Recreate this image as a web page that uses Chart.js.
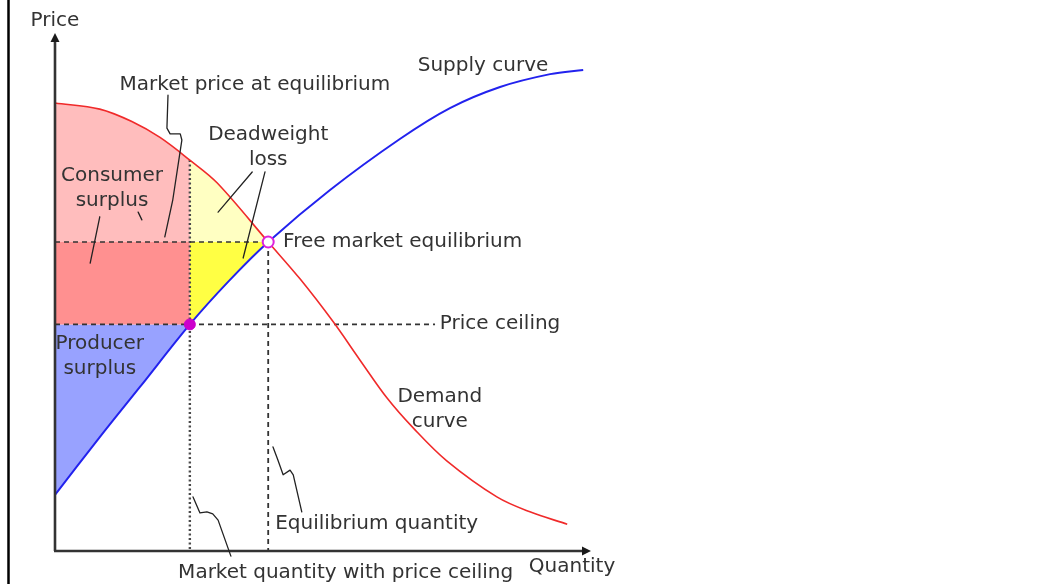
<!DOCTYPE html>
<html>
<head>
<meta charset="utf-8">
<script src="https://cdn.jsdelivr.net/npm/chart.js@4.4.1/dist/chart.umd.min.js"></script>
<style>
  html, body { margin: 0; padding: 0; background: #fff; }
  canvas { display: block; }
</style>
</head>
<body>
<canvas id="c" width="1037" height="584"></canvas>
<script>
// ---- Data (Quantity 0-100, Price 0-100) ----
const demandQ = [0, 8.4, 14.6, 19.7, 25.3, 30.4, 40, 46, 52.2, 57.2, 62.3, 67.2, 73.5, 82.9, 89.1, 96.1];
const demandP = [87, 85.8, 83.3, 80.3, 75.9, 71.5, 60, 52.8, 44.5, 37.1, 29.7, 23.9, 17.5, 10.5, 7.6, 5.2];
const supplyQ = [0, 8.4, 15.9, 25.3, 32.6, 40, 51.6, 64.7, 74.1, 83.5, 92.9, 99.1];
const supplyP = [10.9, 22.1, 31.8, 44, 52.4, 60, 70.1, 80.0, 86.0, 90.1, 92.6, 93.4];
const equilibrium = { q: 40, p: 60 };
const ceiling = { q: 25.3, p: 44 };
const ceilingLineEndQ = 71.3;

const pts = (qs, ps) => qs.map((q, i) => ({ x: q, y: ps[i] }));
const demand = pts(demandQ, demandP);
const supply = pts(supplyQ, supplyP);
const dCeil = demandQ.indexOf(ceiling.q), dEq = demandQ.indexOf(equilibrium.q);
const sCeil = supplyQ.indexOf(ceiling.q), sEq = supplyQ.indexOf(equilibrium.q);

// annotation leader lines (data units)
const leaders = [
  [[21.2,88.5],[21.0,82.1],[21.6,81.0],[23.5,81.0],[23.8,79.8],[22.1,68.2],[20.6,61.0]],
  [[8.4,64.9],[6.6,55.9]],
  [[15.6,65.8],[16.3,64.3]],
  [[37.0,73.6],[30.6,65.8]],
  [[39.4,73.6],[35.3,56.9]],
  [[40.9,20.2],[41.8,17.7],[42.8,14.8],[44.1,15.7],[44.7,14.8],[46.3,7.6]],
  [[25.9,10.5],[27.2,7.4],[28.5,7.6],[29.6,7.2],[30.6,6.0],[33.0,-1.0]]
];
// text labels: [text, q, p, align]
const labels = [
  ["Price", 0, 102.9, "center"],
  ["Market price at equilibrium", 37.5, 90.6, "center"],
  ["Supply curve", 80.3, 94.2, "center"],
  ["Deadweight", 40, 80.8, "center"],
  ["loss", 40, 76.0, "center"],
  ["Consumer", 10.7, 72.8, "center"],
  ["surplus", 10.7, 68.0, "center"],
  ["Free market equilibrium", 42.8, 60.0, "left"],
  ["Price ceiling", 72.2, 44.1, "left"],
  ["Producer", 8.4, 40.2, "center"],
  ["surplus", 8.4, 35.3, "center"],
  ["Demand", 72.2, 29.9, "center"],
  ["curve", 72.2, 25.0, "center"],
  ["Equilibrium quantity", 41.3, 5.2, "left"],
  ["Market quantity with price ceiling", 23.1, -4.3, "left"],
  ["Quantity", 88.9, -3.1, "left"]
];

const RED = '#f02a2a', BLUE = '#2222ee', DASH = '#333333';

const annot = {
  id: 'annot',
  afterDraw(chart) {
    const ctx = chart.ctx, xs = chart.scales.x, ys = chart.scales.y;
    const X = v => xs.getPixelForValue(v), Y = v => ys.getPixelForValue(v);
    ctx.save();
    // left frame line
    ctx.strokeStyle = '#000'; ctx.lineWidth = 2.5;
    ctx.beginPath(); ctx.moveTo(8.5, 0); ctx.lineTo(8.5, chart.height); ctx.stroke();
    // axes
    const x0 = X(0), y0 = Y(0), yTop = Y(100), xEnd = X(100);
    ctx.strokeStyle = '#333'; ctx.lineWidth = 2.6;
    ctx.beginPath(); ctx.moveTo(x0, y0); ctx.lineTo(x0, yTop + 4); ctx.stroke();
    ctx.beginPath(); ctx.moveTo(x0 - 1, y0); ctx.lineTo(xEnd - 4, y0); ctx.stroke();
    ctx.fillStyle = '#1a1a1a';
    ctx.beginPath(); ctx.moveTo(x0, yTop - 3); ctx.lineTo(x0 - 4.5, yTop + 6); ctx.lineTo(x0 + 4.5, yTop + 6); ctx.closePath(); ctx.fill();
    ctx.beginPath(); ctx.moveTo(xEnd + 3, y0); ctx.lineTo(xEnd - 6, y0 - 4.5); ctx.lineTo(xEnd - 6, y0 + 4.5); ctx.closePath(); ctx.fill();
    // leaders
    ctx.strokeStyle = '#222'; ctx.lineWidth = 1.3; ctx.lineJoin = 'round'; ctx.lineCap = 'round';
    leaders.forEach(l => {
      ctx.beginPath();
      l.forEach((p, i) => { const px = X(p[0]), py = Y(p[1]); i ? ctx.lineTo(px, py) : ctx.moveTo(px, py); });
      ctx.stroke();
    });
    // labels
    ctx.font = '20px "DejaVu Sans"';
    ctx.fillStyle = '#333';
    ctx.textBaseline = 'middle';
    labels.forEach(([t, q, p, a]) => {
      ctx.textAlign = a;
      ctx.fillText(t, X(q), Y(p));
    });
    ctx.restore();
  }
};

const TENSION = 0.35;
const fillDS = (data, target, color) => ({
  data, showLine: true, borderWidth: 0, pointRadius: 0, fill: { value: target },
  backgroundColor: color, borderColor: 'rgba(0,0,0,0)', tension: TENSION, order: 10, clip: false
});
const lineDS = (data, color, width, dash, order, tension) => ({
  data, showLine: true, borderColor: color, borderWidth: width, borderDash: dash || [],
  pointRadius: 0, fill: false, order, clip: false, tension: tension || 0
});

new Chart(document.getElementById('c'), {
  type: 'scatter',
  data: {
    datasets: [
      fillDS(demand.slice(0, dCeil + 1), equilibrium.p, '#ffbdbd'),
      fillDS(demand.slice(dCeil, dEq + 1), equilibrium.p, '#ffffc2'),
      fillDS([{x: 0, y: equilibrium.p}, {x: ceiling.q, y: equilibrium.p}], ceiling.p, '#ff9090'),
      fillDS(supply.slice(sCeil, sEq + 1), equilibrium.p, '#ffff44'),
      fillDS(supply.slice(0, sCeil + 1), ceiling.p, '#98a2ff'),
      lineDS([{x: 0, y: equilibrium.p}, {x: equilibrium.q, y: equilibrium.p}], DASH, 1.6, [5, 4], 6),
      lineDS([{x: 0, y: ceiling.p}, {x: ceilingLineEndQ, y: ceiling.p}], DASH, 1.6, [5, 4], 6),
      lineDS([{x: ceiling.q, y: demandP[dCeil]}, {x: ceiling.q, y: 0}], '#4a4a4a', 2.4, [2, 2.5], 6),
      lineDS([{x: equilibrium.q, y: equilibrium.p}, {x: equilibrium.q, y: 0}], DASH, 1.8, [5, 4], 6),
      lineDS(demand, RED, 1.6, null, 3, TENSION),
      lineDS(supply, BLUE, 2, null, 2, TENSION),
      { data: [{x: ceiling.q, y: ceiling.p}], pointRadius: 5.5, pointBackgroundColor: '#cc00cc', pointBorderColor: '#cc00cc', pointBorderWidth: 1, order: 0, clip: false },
      { data: [{x: equilibrium.q, y: equilibrium.p}], pointRadius: 5.5, pointBackgroundColor: '#ffffff', pointBorderColor: '#dd22dd', pointBorderWidth: 2, order: 0, clip: false }
    ]
  },
  options: {
    responsive: false,
    animation: false,
    devicePixelRatio: 1,
    layout: { padding: { left: 55, right: 449, top: 36, bottom: 33 } },
    plugins: { legend: { display: false }, tooltip: { enabled: false } },
    scales: {
      x: { type: 'linear', min: 0, max: 100, display: false },
      y: { type: 'linear', min: 0, max: 100, display: false }
    }
  },
  plugins: [annot]
});
</script>
</body>
</html>
